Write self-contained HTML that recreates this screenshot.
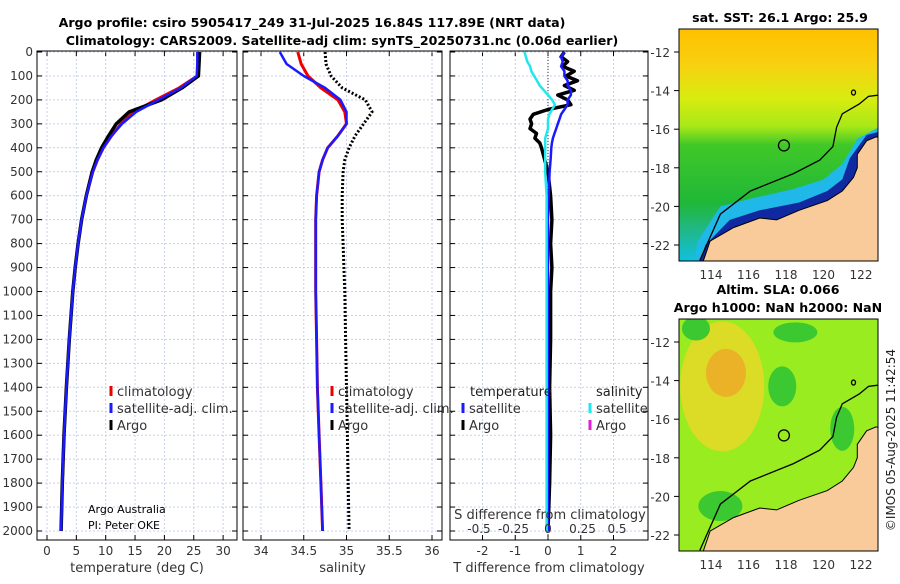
<!DOCTYPE html>
<html><head><meta charset="utf-8">
<style>
body{margin:0;background:#fff;width:900px;height:580px;overflow:hidden;font-family:"DejaVu Sans","Liberation Sans",sans-serif;}
svg text{font-family:"DejaVu Sans","Liberation Sans",sans-serif;}
</style></head>
<body>
<svg id="c" width="900" height="580" xmlns="http://www.w3.org/2000/svg">
<defs>
<clipPath id="clip1"><rect x="679" y="29" width="199" height="232"/></clipPath>
<clipPath id="clip2"><rect x="679" y="319" width="199" height="232"/></clipPath>
</defs>
<text x="312" y="27" text-anchor="middle" font-size="12.6" font-weight="bold">Argo profile: csiro 5905417_249 31-Jul-2025 16.84S 117.89E (NRT data)</text>
<text x="342" y="45" text-anchor="middle" font-size="12.6" font-weight="bold">Climatology: CARS2009. Satellite-adj clim: synTS_20250731.nc (0.06d earlier)</text>
<text x="780" y="22" text-anchor="middle" font-size="12.6" font-weight="bold">sat. SST: 26.1 Argo: 25.9</text>
<text x="778" y="294" text-anchor="middle" font-size="12.6" font-weight="bold">Altim. SLA: 0.066</text>
<text x="778" y="312" text-anchor="middle" font-size="12.6" font-weight="bold">Argo h1000: NaN h2000: NaN</text>
<text transform="translate(895,440) rotate(-90)" text-anchor="middle" font-size="12" fill="#222">©IMOS 05-Aug-2025 11:42:54</text>
<g id="g"></g>
</svg>
<script>
// ---- data ----
const depths=[0,50,100,150,200,250,300,350,400,450,500,600,700,800,900,1000,1200,1400,1600,1800,2000];
const tempClim=[25.9,25.8,25.6,22.5,18.5,14.8,12.6,11.0,9.6,8.6,7.8,6.7,5.9,5.3,4.8,4.4,3.8,3.3,2.9,2.6,2.4];
const tempSat=[25.6,25.6,25.5,22.8,19.0,15.2,12.8,11.0,9.6,8.6,7.8,6.7,5.9,5.3,4.8,4.4,3.8,3.3,2.9,2.6,2.4];
const tempArgo=[26.0,25.9,25.8,23.0,19.5,14.0,11.8,10.5,9.3,8.4,7.7,6.7,5.9,5.3,4.8,4.4,3.8,3.3,2.9,2.6,2.4];
const salClim=[34.43,34.47,34.55,34.7,34.9,34.98,35.0,34.9,34.78,34.72,34.68,34.65,34.64,34.64,34.64,34.64,34.65,34.66,34.68,34.7,34.72];
const salSat=[34.22,34.3,34.5,34.75,34.93,35.0,35.0,34.9,34.78,34.72,34.68,34.65,34.64,34.64,34.64,34.64,34.65,34.66,34.68,34.7,34.72];
const salArgo=[34.75,34.76,34.82,34.95,35.22,35.3,35.2,35.1,35.03,34.98,34.96,34.95,34.95,34.96,34.97,34.98,34.99,35.0,35.01,35.02,35.03];
const dtDepths=[0,20,40,60,80,100,120,140,160,180,200,220,240,260,280,300,320,340,360,380,400,450,500,600,700,800,900,1000,1200,1400,1600,1800,2000];
const dtArgo=[0.5,0.4,0.6,0.45,0.8,0.55,0.9,0.5,0.8,0.3,0.6,0.7,0.0,-0.45,-0.55,-0.5,-0.55,-0.35,-0.4,-0.25,-0.2,-0.1,0.0,0.08,0.12,0.08,0.12,0.08,0.08,0.05,0.08,0.05,0.0];
const dtSat=[0.5,0.4,0.45,0.4,0.5,0.5,0.6,0.6,0.7,0.7,0.6,0.6,0.5,0.4,0.35,0.3,0.25,0.2,0.15,0.12,0.1,0.08,0.05,0.02,0,0,0,0,0,0,0,0,0];
const dsSat=[-0.17,-0.16,-0.15,-0.13,-0.12,-0.1,-0.08,-0.06,-0.03,0.0,0.03,0.05,0.03,0.01,0.0,0.0,0.0,-0.01,-0.02,-0.02,-0.02,-0.02,-0.02,-0.01,-0.01,-0.01,-0.01,-0.01,-0.01,-0.01,-0.01,-0.01,-0.01];
const depthTicks=[0,100,200,300,400,500,600,700,800,900,1000,1100,1200,1300,1400,1500,1600,1700,1800,1900,2000];
const tTicks=[0,5,10,15,20,25,30];
const sTicks=[34,34.5,35,35.5,36];
const dTicks=[-2,-1,0,1,2];
const dsTickLabels=["-0.5","-0.25","0","0.25","0.5"];
const dsTickVals=[-0.5,-0.25,0,0.25,0.5];
const latTicks=[-12,-14,-16,-18,-20,-22];
const lonTicks=[114,116,118,120,122];

const NS="http://www.w3.org/2000/svg";
const G=document.getElementById('g');
function el(t,a,p){const e=document.createElementNS(NS,t);for(const k in a)e.setAttribute(k,a[k]);(p||G).appendChild(e);return e;}
function txt(x,y,s,a,p){const e=el('text',Object.assign({x:x,y:y,'font-size':12,fill:'#333'},a||{}),p);e.textContent=s;return e;}
const Y=d=>52+d*0.2395;
const YB=540;
function poly(xs,ys,fx,fy,attrs,name){const pts=xs.map((v,i)=>fx(v).toFixed(1)+','+fy(ys[i]).toFixed(1)).join(' ');const e=el('polyline',Object.assign({points:pts,fill:'none','stroke-linejoin':'round'},attrs));return e;}

function panel(x0,x1,xs,xticks,xlabels,title,name,showY){
  const g=el('g',{});
  
  
  xticks.forEach((v,i)=>{el('line',{x1:xs(v),x2:xs(v),y1:51,y2:YB,stroke:'#c8d0e8','stroke-dasharray':'2,2'},g);
    el('line',{x1:xs(v),x2:xs(v),y1:YB,y2:YB-5,stroke:'#000'},g);el('line',{x1:xs(v),x2:xs(v),y1:51,y2:56,stroke:'#000'},g);
    if(xlabels){const t=txt(xs(v),555,xlabels[i],{'text-anchor':'middle'},g);}});
  depthTicks.forEach(d=>{el('line',{x1:x0,x2:x1,y1:Y(d),y2:Y(d),stroke:'#c8d0e8','stroke-dasharray':'2,2'},g);
    el('line',{x1:x0,x2:x0+5,y1:Y(d),y2:Y(d),stroke:'#000'},g);el('line',{x1:x1-5,x2:x1,y1:Y(d),y2:Y(d),stroke:'#000'},g);
    if(showY){const t=txt(x0-4,Y(d)+4,String(d),{'text-anchor':'end'},g);}});
  el('rect',{x:x0,y:51,width:x1-x0,height:YB-51,fill:'none',stroke:'#000'},g);
  const t=txt((x0+x1)/2,572,title,{'text-anchor':'middle','font-size':13},g);
  
  return g;
}
// Panel 1
const xT=v=>47+v*5.87;
panel(37,237,xT,tTicks,tTicks.map(String),'temperature (deg C)','temperature-panel',true);
poly(tempClim,depths,xT,Y,{stroke:'#e00',"stroke-width":3},'temp-climatology-line');
poly(tempArgo,depths,xT,Y,{stroke:'#000',"stroke-width":3.5},'temp-argo-line');
poly(tempSat,depths,xT,Y,{stroke:'#1a1aff',"stroke-width":2.5},'temp-satellite-line');
// Panel 2
const xS=v=>261+(v-34)*85.5;
panel(243,442,xS,sTicks,sTicks.map(String),'salinity','salinity-panel',false);
poly(salArgo,depths,xS,Y,{stroke:'#000',"stroke-width":3,'stroke-dasharray':'2,2'},'sal-argo-line');
poly(salClim,depths,xS,Y,{stroke:'#e00',"stroke-width":3},'sal-climatology-line');
poly(salSat,depths,xS,Y,{stroke:'#1a1aff',"stroke-width":2.5},'sal-satellite-line');
// Panel 3
const xD=v=>548+v*32.75;
const xDS=v=>548+v*138;
panel(450,648,xD,dTicks,dTicks.map(String),'T difference from climatology','difference-panel',false);
el('line',{x1:548,x2:548,y1:51,y2:YB,stroke:'#333','stroke-dasharray':'1,2'});
poly(dtArgo,dtDepths,xD,Y,{stroke:'#000',"stroke-width":3.5},'tdiff-argo-line');
poly(dtSat,dtDepths,xD,Y,{stroke:'#1a1aff',"stroke-width":2.5},'tdiff-satellite-line');
poly(dsSat,dtDepths,xDS,Y,{stroke:'#22e6ee',"stroke-width":2.5},'sdiff-satellite-line');
txt(550,519,'S difference from climatology',{'text-anchor':'middle','font-size':13});
dsTickVals.forEach((v,i)=>{const t=txt(xDS(v),533,dsTickLabels[i],{'text-anchor':'middle'});});
// legends
function leg(x,y,c,s,name){const g=el('g',{});
  el('line',{x1:x,x2:x,y1:y-10,y2:y,stroke:c,'stroke-width':3},g);txt(x+6,y,s,{'font-size':13},g);}
leg(111,396,'#e00','climatology','legend-entry-climatology');
leg(111,413,'#1a1aff','satellite-adj. clim.','legend-entry-satellite');
leg(111,430,'#000','Argo','legend-entry-argo');
leg(332,396,'#e00','climatology','legend-entry-climatology');
leg(332,413,'#1a1aff','satellite-adj. clim.','legend-entry-satellite');
leg(332,430,'#000','Argo','legend-entry-argo');
txt(470,396,'temperature',{'font-size':13,fill:'#222'});
txt(596,396,'salinity',{'font-size':13,fill:'#222'});
leg(463,413,'#1a1aff','satellite','legend-entry-t-satellite');
leg(463,430,'#000','Argo','legend-entry-t-argo');
leg(590,413,'#22e6ee','satellite','legend-entry-s-satellite');
leg(590,430,'#e020d0','Argo','legend-entry-s-argo');
txt(88,513,'Argo Australia',{'font-size':11,fill:'#000'});
txt(88,529,'PI: Peter OKE',{'font-size':11,fill:'#000'});

// Maps
const lonX=l=>711+(l-114)*18.75;
const land=[[113.4,-23.2],[113.6,-22.8],[113.95,-21.8],[115.2,-21.1],[116.6,-20.6],[117.5,-20.7],[118.7,-20.2],[120.2,-19.7],[121,-19.2],[121.6,-18.5],[121.8,-18],[121.8,-17.3],[122.3,-16.6],[122.8,-16.4],[123.5,-16.5],[123.5,-23.2]];
const shelf=[[113.4,-22.8],[114.5,-20.4],[116.1,-19.2],[118.4,-18.3],[119.8,-17.6],[120.5,-16.9],[120.7,-15.9],[121,-15.2],[121.9,-14.7],[122.4,-14.3],[123.2,-14.2]];
function drawMap(top,bg,name,clip,extra){
  const g=el('g',{});
  const latY=l=>top+23+(-12-l)*19.3;
  const inner=el('g',{'clip-path':'url(#'+clip+')'},g);
  const id='gr'+top;
  const d=el('defs',{},g);const lg=el('linearGradient',{id:id,x1:0,y1:0,x2:0,y2:1},d);
  bg.forEach(c=>el('stop',{offset:c[0],'stop-color':c[1]},lg));
  el('rect',{x:679,y:top,width:199,height:232,fill:'url(#'+id+')'},inner);
  const P=a=>a.map(p=>lonX(p[0]).toFixed(1)+','+latY(p[1]).toFixed(1)).join(' ');
  if(extra)extra(inner,latY,P);
  el('polygon',{points:P(land),fill:'#f9cb9a'},inner);
  el('polyline',{points:P(land),fill:'none',stroke:'#000','stroke-width':1},inner);
  el('polyline',{points:P(shelf),fill:'none',stroke:'#000','stroke-width':1.3},inner);
  el('ellipse',{cx:lonX(121.6),cy:latY(-14.1),rx:2,ry:2.5,fill:'none',stroke:'#000','stroke-width':1.3},inner);
  const c=el('circle',{cx:lonX(117.89),cy:latY(-16.84),r:5.5,fill:'none',stroke:'#000','stroke-width':1.3},inner);
  
  el('rect',{x:679,y:top,width:199,height:232,fill:'none',stroke:'#000'},g);
  latTicks.forEach(l=>{el('line',{x1:679,x2:674,y1:latY(l),y2:latY(l),stroke:'#000'},g);
    const t=txt(670,latY(l)+5,String(l),{'text-anchor':'end','font-size':12},g);});
  lonTicks.forEach(l=>{const t=txt(lonX(l),top+250,String(l),{'text-anchor':'middle','font-size':12},g);});
}
drawMap(29,[[0,'#ffc000'],[0.15,'#f8d010'],[0.3,'#d8ec10'],[0.42,'#a8e818'],[0.5,'#40c828'],[0.75,'#20b838'],[0.88,'#20b890'],[1,'#10c0e0']],'sst-map','clip1',
 (g,latY,P)=>{
  el('polygon',{points:P([[113,-23.2],[113.3,-21.8],[114.5,-20.0],[116.1,-19.6],[118.4,-19.1],[120,-18.6],[121,-17.8],[121.8,-16.5],[123.5,-15.6],[123.5,-23.2]]),fill:'#20b8e8'},g);
  el('polygon',{points:P([[113.3,-23.2],[113.7,-22],[115,-20.7],[116.6,-20.2],[118.7,-19.8],[120.2,-19.2],[121,-18.6],[121.4,-17.5],[122.3,-16.3],[123.5,-16],[123.5,-23.2]]),fill:'#1028a0'},g);});
drawMap(319,[[0,'#98ec20'],[1,'#98ec20']],'sla-map','clip2',
 (g,latY)=>{el('ellipse',{cx:lonX(114.6),cy:latY(-14.3),rx:42,ry:65,fill:'#e8d828',opacity:0.85},g);
  el('ellipse',{cx:lonX(114.8),cy:latY(-13.6),rx:20,ry:24,fill:'#f0a828',opacity:0.8},g);
  el('ellipse',{cx:lonX(117.8),cy:latY(-14.3),rx:14,ry:20,fill:'#3cc830'},g);
  el('ellipse',{cx:lonX(118.5),cy:latY(-11.5),rx:22,ry:10,fill:'#3cc830'},g);
  el('ellipse',{cx:lonX(114.5),cy:latY(-20.5),rx:22,ry:15,fill:'#3cc830'},g);
  el('ellipse',{cx:lonX(121),cy:latY(-16.5),rx:12,ry:22,fill:'#3cc830'},g);
  el('ellipse',{cx:lonX(113.2),cy:latY(-11.3),rx:14,ry:12,fill:'#3cc830'},g);});
</script>
</body></html>
